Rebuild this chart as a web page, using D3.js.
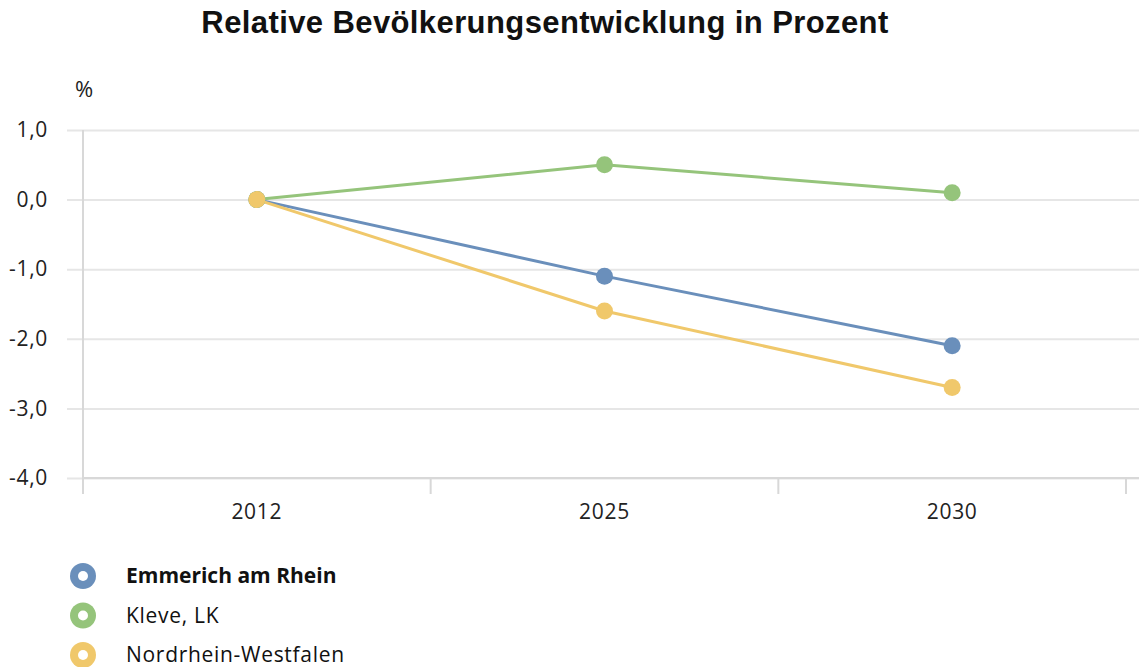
<!DOCTYPE html>
<html><head><meta charset="utf-8">
<script src="https://cdn.jsdelivr.net/npm/d3@7"></script>
<style>body{margin:0;background:#fff}svg{display:block}</style>
</head><body><svg id="c" width="1139" height="667"></svg>
<script>
const categories = ["2012", "2025", "2030"];
const seriesNames = ["Emmerich am Rhein", "Kleve, LK", "Nordrhein-Westfalen"];
const emmerich = [0, -1.1, -2.1];
const kleve = [0, 0.5, 0.1];
const nrw = [0, -1.6, -2.7];
const yTicks = [1, 0, -1, -2, -3, -4];
const colors = ["#6a8fbb", "#95c47b", "#f0c86b"];
const seriesValues = [emmerich, kleve, nrw];

const svg = d3.select("#c");
const font = "'Open Sans', sans-serif";
const fs = 21, ls = 0.7;
const x = d3.scaleBand().domain(categories).range([83, 1126]);
const y = d3.scaleLinear().domain([-4, 1]).range([478, 130]);

svg.append("text").attr("x", 545).attr("y", 33).attr("text-anchor", "middle")
  .attr("font-family", "Arial, 'Liberation Sans', sans-serif").attr("font-weight", "bold")
  .attr("font-size", 31).attr("letter-spacing", 0.4).attr("fill", "#111").text("Relative Bevölkerungsentwicklung in Prozent");

svg.append("text").attr("x", 84).attr("y", 97).attr("text-anchor", "middle")
  .attr("font-family", font).attr("font-size", 22).attr("font-weight", 500).attr("fill", "#222").text("%");

// y axis with grid
const yAxis = d3.axisLeft(y).tickValues(yTicks).tickSize(-(1139 - 83)).tickPadding(35)
  .tickFormat(d => d3.format(".1f")(d).replace(".", ",").replace("−", "-"));
const yg = svg.append("g").attr("transform", "translate(83,0)").call(yAxis);
yg.select(".domain").remove();
yg.selectAll(".tick line").attr("stroke", "#e6e6e6").attr("stroke-width", 2).attr("x1", -16);
yg.selectAll(".tick text").attr("font-family", font).attr("font-size", fs).attr("font-weight", 500)
  .attr("letter-spacing", ls).attr("fill", "#222");

// y axis vertical line
svg.append("line").attr("x1", 83).attr("x2", 83).attr("y1", y(1)).attr("y2", 494)
  .attr("stroke", "#d8d8d8").attr("stroke-width", 2);

// x axis
const xAxis = d3.axisBottom(x).tickSize(0).tickPadding(26);
const xg = svg.append("g").attr("transform", "translate(0,478)").call(xAxis);
xg.select(".domain").remove();
xg.selectAll(".tick text").attr("font-family", font).attr("font-size", fs).attr("font-weight", 500)
  .attr("letter-spacing", ls).attr("fill", "#222");
svg.append("line").attr("x1", 83).attr("x2", 1139).attr("y1", 478).attr("y2", 478)
  .attr("stroke", "#d8d8d8").attr("stroke-width", 2);
const bounds = categories.map(c => x(c)).concat([x.range()[1]]);
svg.selectAll("line.bt").data(bounds).join("line").attr("class", "bt")
  .attr("x1", d => d).attr("x2", d => d).attr("y1", 478).attr("y2", 494)
  .attr("stroke", "#d8d8d8").attr("stroke-width", 2);

const cx = c => x(c) + x.bandwidth() / 2;
const line = d3.line().x((d, i) => cx(categories[i])).y(d => y(d));
seriesValues.forEach((vals, si) => {
  svg.append("path").datum(vals).attr("d", line).attr("fill", "none")
    .attr("stroke", colors[si]).attr("stroke-width", 3);
});
seriesValues.forEach((vals, si) => {
  svg.selectAll(null).data(vals).join("circle")
    .attr("cx", (d, i) => cx(categories[i])).attr("cy", d => y(d)).attr("r", 8.5)
    .attr("fill", colors[si]);
});

// legend
const lg = svg.append("g");
seriesNames.forEach((n, i) => {
  const yy = 576 + i * 39.5;
  lg.append("circle").attr("cx", 83).attr("cy", yy).attr("r", 13).attr("fill", colors[i]);
  lg.append("circle").attr("cx", 83).attr("cy", yy).attr("r", 5).attr("fill", "#fff");
  lg.append("text").attr("x", 126).attr("y", yy + 7).attr("font-family", font)
    .attr("font-size", fs).attr("font-weight", i === 0 ? "bold" : 500)
    .attr("letter-spacing", i === 0 ? 0 : ls)
    .attr("fill", "#111").text(n);
});
</script></body></html>
